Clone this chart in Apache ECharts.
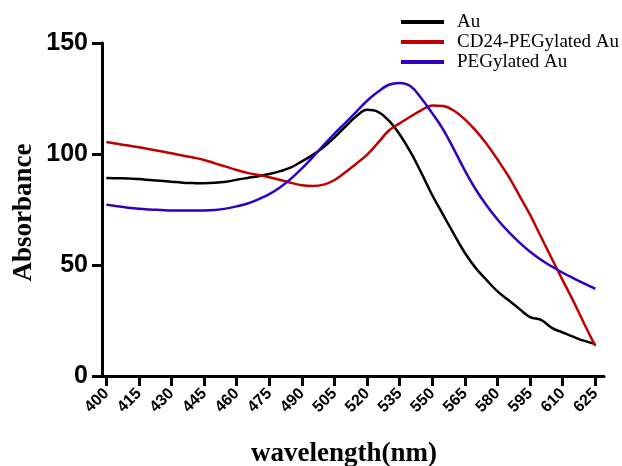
<!DOCTYPE html>
<html>
<head>
<meta charset="utf-8">
<script src="https://cdn.jsdelivr.net/npm/echarts@6/dist/echarts.min.js"></script>
<style>
html,body{margin:0;padding:0;background:#fff;}
#chart{width:622px;height:466px;}
</style>
</head>
<body>
<div id="chart"></div>
<script>
const wavelengths = [400,405,410,415,420,425,430,435,440,445,450,455,460,465,470,475,480,485,490,495,500,505,510,515,520,525,530,535,540,545,550,555,560,565,570,575,580,585,590,595,600,605,610,615,620,625];
const auValues = [89.2,89.1,89.0,88.7,88.3,87.9,87.5,87.1,86.9,86.8,87.0,87.5,88.4,89.2,90.0,91.0,92.3,94.0,96.7,99.6,103.1,107.5,112.3,117.0,119.9,119.0,115.0,108.8,100.8,91.4,81.4,72.6,63.8,55.4,48.6,43.2,38.1,34.2,30.3,26.5,25.3,21.7,19.6,17.6,15.8,14.4];
const cd24Values = [105.4,104.6,103.8,103.0,102.1,101.2,100.3,99.3,98.4,97.3,95.8,94.3,92.8,91.5,90.5,89.5,88.3,87.0,85.9,85.6,86.2,88.3,91.8,95.6,99.7,105.0,110.6,113.8,116.9,119.8,121.8,121.6,119.5,115.6,110.5,104.5,97.5,90.0,81.4,72.6,62.7,52.8,43.1,33.5,23.3,13.5];
const pegValues = [77.2,76.5,75.8,75.3,75.0,74.8,74.6,74.6,74.6,74.6,74.8,75.4,76.4,77.7,79.6,81.9,85.0,88.9,93.5,98.6,104.0,109.2,114.0,119.0,124.0,128.0,131.2,132.0,130.5,125.0,118.3,111.0,102.0,92.5,84.0,76.8,70.5,65.0,60.2,56.0,52.4,49.3,46.5,44.0,41.6,39.3];
const xTickLabels = [400,415,430,445,460,475,490,505,520,535,550,565,580,595,610,625];
const yTicks = [0,50,100,150];
const seriesNames = ['Au','CD24-PEGylated Au','PEGylated Au'];

const zip = vals => wavelengths.map((w,i)=>[w, vals[i]]);

const chart = echarts.init(document.getElementById('chart'), null, {renderer:'canvas'});
const axisCol = '#000';
const serif = '"Liberation Serif", "Times New Roman", serif';
const sans = '"Liberation Sans", Arial, sans-serif';
chart.setOption({
  animation:false,
  backgroundColor:'#fff',
  grid:{left:102, right:18, top:43, bottom:90, containLabel:false, outerBoundsMode:'none'},
  legend:{
    orient:'vertical', left:401, top:12, padding:0,
    itemWidth:43, itemHeight:4, itemGap:0, icon:'rect',
    data:seriesNames,
    textStyle:{fontFamily:serif, fontSize:19, lineHeight:20, color:'#000', padding:[0,0,0,8]}
  },
  xAxis:{
    type:'value', min:398, max:629,
    name:'wavelength(nm)', nameLocation:'middle', nameGap:65,
    nameTextStyle:{fontFamily:serif, fontWeight:'bold', fontSize:27, color:'#000', padding:[0,18,0,0]},
    axisLine:{show:true, lineStyle:{color:axisCol, width:3}},
    axisTick:{show:true, length:10, lineStyle:{color:axisCol, width:3}, customValues:xTickLabels},
    axisLabel:{show:true, rotate:45, margin:15, customValues:xTickLabels,
      fontFamily:sans, fontWeight:'bold', fontSize:16, color:'#000'},
    splitLine:{show:false}
  },
  yAxis:{
    type:'value', min:0, max:150, interval:50,
    name:'Absorbance', nameLocation:'middle', nameGap:64, nameRotate:90, nameMoveOverlap:false,
    nameTextStyle:{fontFamily:serif, fontWeight:'bold', fontSize:27, color:'#000', padding:[0,6,0,0]},
    axisLine:{show:true, lineStyle:{color:axisCol, width:3}},
    axisTick:{show:true, length:10, lineStyle:{color:axisCol, width:3}, customValues:yTicks},
    axisLabel:{show:true, margin:14, customValues:yTicks,
      fontFamily:sans, fontWeight:'bold', fontSize:25, color:'#000'},
    splitLine:{show:false}
  },
  series:[
    {name:seriesNames[0], type:'line', data:zip(auValues), symbol:'none', smooth:0.4, lineStyle:{color:'#000000', width:2.5}, itemStyle:{color:'#000000'}},
    {name:seriesNames[1], type:'line', data:zip(cd24Values), symbol:'none', smooth:0.4, lineStyle:{color:'#c00000', width:2.5}, itemStyle:{color:'#c00000'}},
    {name:seriesNames[2], type:'line', data:zip(pegValues), symbol:'none', smooth:0.4, lineStyle:{color:'#3000c0', width:2.5}, itemStyle:{color:'#3000c0'}}
  ]
});
</script>
</body>
</html>
